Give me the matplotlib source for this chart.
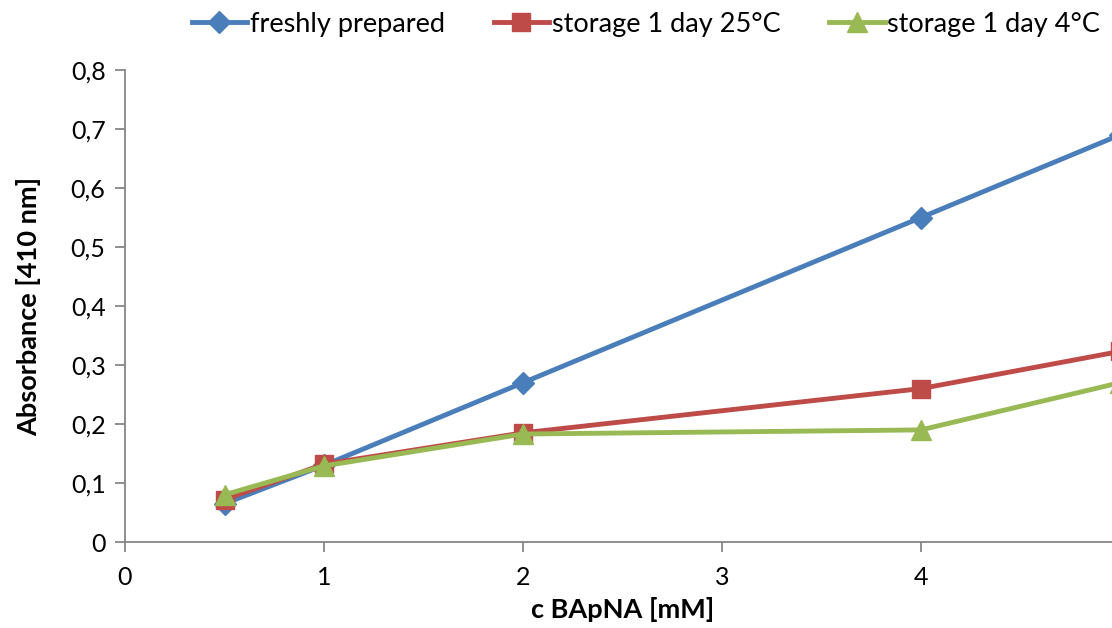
import matplotlib
matplotlib.use("Agg")
import matplotlib.pyplot as plt

# Substrate concentration (mM) and absorbance readings at 410 nm
conc = [0.5, 1, 2, 4, 5]
fresh = [0.065, 0.13, 0.27, 0.55, 0.69]
stored_25c = [0.072, 0.132, 0.185, 0.26, 0.323]
stored_4c = [0.08, 0.129, 0.183, 0.19, 0.27]

series_labels = ["freshly prepared", "storage 1 day 25°C", "storage 1 day 4°C"]
x_ticks = [0, 1, 2, 3, 4]
x_tick_labels = ["0", "1", "2", "3", "4"]
y_ticks = [0, 0.1, 0.2, 0.3, 0.4, 0.5, 0.6, 0.7, 0.8]
y_tick_labels = ["0", "0,1", "0,2", "0,3", "0,4", "0,5", "0,6", "0,7", "0,8"]

plt.rcParams["font.family"] = ["Lato", "DejaVu Sans"]

W, H = 1112, 628
fig = plt.figure(figsize=(W / 100, H / 100), dpi=100)

# axes run a little past the right edge of the canvas
x0, x1 = 125, 125 + 5 * 199
y0, y1 = 542, 70
ax = fig.add_axes([x0 / W, (H - y0) / H, (x1 - x0) / W, (y0 - y1) / H])
ax.set_xlim(0, 5)
ax.set_ylim(0, 0.8)

styles = [
    dict(color="#4A7EBB", marker="D", markersize=11),
    dict(color="#BE4B48", marker="s", markersize=13),
    dict(color="#98B954", marker="^", markersize=15),
]
for vals, lab, st in zip([fresh, stored_25c, stored_4c], series_labels, styles):
    ax.plot(conc, vals, lw=3.5, label=lab, clip_on=False, zorder=3, **st)

for side in ("top", "right"):
    ax.spines[side].set_visible(False)
for side in ("left", "bottom"):
    ax.spines[side].set_color("#868686")
    ax.spines[side].set_linewidth(1.3)

ax.set_xticks(x_ticks)
ax.set_xticklabels(x_tick_labels)
ax.set_yticks(y_ticks)
ax.set_yticklabels(y_tick_labels)
ax.tick_params(axis="both", direction="out", length=7, width=1.3,
               color="#868686", labelsize=18, labelcolor="black")
ax.tick_params(axis="x", pad=10)
ax.tick_params(axis="y", pad=7)

ax.set_xlabel("c BApNA [mM]", fontsize=19.5, fontweight="bold", labelpad=6)
ax.set_ylabel("Absorbance [410 nm]", fontsize=19.5, fontweight="bold", labelpad=21)

fig.legend(loc="upper right", bbox_to_anchor=(1107 / W, 1 - 5 / H), ncol=3,
           frameon=False, fontsize=19.5, handlelength=2.05, handletextpad=0.1,
           columnspacing=1.8, borderaxespad=0.0, borderpad=0.25)

fig.savefig("out.png", dpi=100)
